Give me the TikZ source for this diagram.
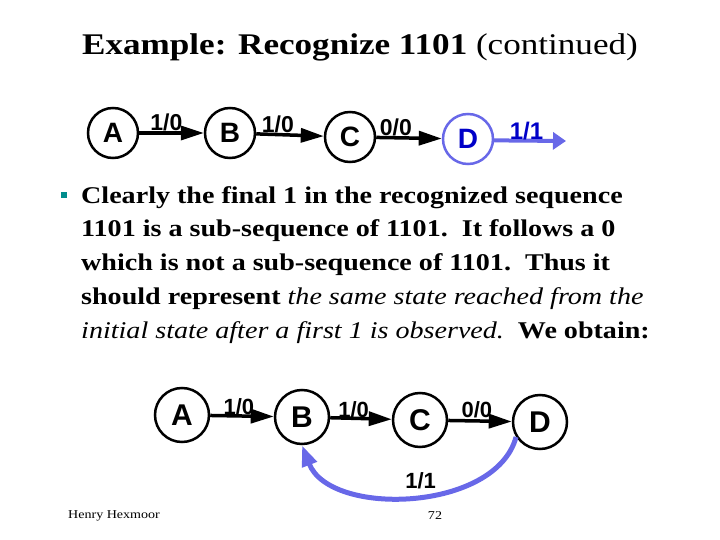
\documentclass[tikz,border=0pt]{standalone}
\usepackage{fontspec}
\setmainfont{Liberation Serif}[FakeStretch=1.17]
\newfontfamily\arialfont{Liberation Sans}
\usepackage{tikz}
\usetikzlibrary{arrows.meta}

\definecolor{lineblue}{RGB}{104,104,232}
\definecolor{textblue}{RGB}{0,0,200}
\definecolor{bulletteal}{RGB}{0,140,140}

\begin{document}
\begin{tikzpicture}[x=1pt,y=-1pt,
  state/.style={circle,draw=black,line width=2.5pt,inner sep=0pt,
                font=\arialfont\bfseries\fontsize{28}{28}\selectfont},
  lbl/.style={font=\arialfont\bfseries\fontsize{23}{23}\selectfont,inner sep=1pt}]
\useasboundingbox (0,0) rectangle (720,540);

\node (title) at (360,47) {\fontsize{30}{36}\selectfont\textbf{Example: Recognize 1101} (continued)};

% top row
\begin{scope}[every node/.style={state,minimum size=50pt}]
  \node (A) at (113,133) {A};
  \node (B) at (230,133) {B};
  \node (C) at (350,137) {C};
  \node[draw=lineblue,text=textblue] (D) at (468,139) {D};
\end{scope}
\coordinate (Dout) at (566,141);

\begin{scope}[>={Triangle[length=23pt,width=14pt]},
              every node/.style={lbl},
              every edge/.style={draw=black, line width=3.5pt}]
  \path[->] (A) edge node[pos=0.42,above=-1pt] {1/0} (B);
  \path[->] (B) edge node[pos=0.32,above=-1pt] {1/0} (C);
  \path[->] (C) edge node[pos=0.3,above=-1pt] {0/0} (D);
  \path[->,>={Triangle[length=13pt,width=17pt]}] (D.-3) edge[draw=lineblue, line width=4pt]
        node[pos=0.45,above=-2pt,text=textblue,font=\arialfont\bfseries\fontsize{24}{24}\selectfont] {1/1} (Dout);
\end{scope}

% bullet text
\node[fill=bulletteal,minimum size=6pt,inner sep=0pt] (bullet) at (63.5,195) {};
\node[anchor=north west,align=left,inner sep=0pt,
      font=\bfseries\fontsize{24}{33.75}\selectfont] (body) at (81,186) {%
Clearly the final 1 in the recognized sequence\\
1101 is a sub-sequence of 1101.\ \ It follows a 0\\
which is not a sub-sequence of 1101.\ \ Thus it\\
should represent {\mdseries\itshape the same state reached from the}\\
{\mdseries\itshape initial state after a first 1 is observed.}\ \ We obtain:};

% bottom row
\begin{scope}[every node/.style={state,minimum size=54pt,
                font=\arialfont\bfseries\fontsize{30}{30}\selectfont}]
  \node (A2) at (182,415) {A};
  \node (B2) at (302,417) {B};
  \node (C2) at (420,420) {C};
  \node (D2) at (540,422) {D};
\end{scope}

\begin{scope}[>={Triangle[length=23pt,width=14pt]},
              every node/.style={lbl,font=\arialfont\bfseries\fontsize{22}{22}\selectfont},
              every edge/.style={draw=black, line width=3.5pt}]
  \path[->] (A2) edge node[pos=0.45,above=-2pt] {1/0} (B2);
  \path[->] (B2) edge node[pos=0.38,above=-2pt] {1/0} (C2);
  \path[->] (C2) edge node[pos=0.45,above=0pt] {0/0} (D2);
\end{scope}
\draw[-{Triangle[length=21pt,width=15pt]}, draw=lineblue, line width=5pt]
  (D2.212) .. controls +(-20,75) and +(28,72) .. (B2.south)
  node[pos=0.47,above=3pt,text=black,font=\arialfont\bfseries\fontsize{22}{22}\selectfont,inner sep=1pt] {1/1};

% footer
\node[font=\fontsize{12}{14}\selectfont] (author) at (114,516) {Henry Hexmoor};
\node[font=\fontsize{12}{14}\selectfont] (page) at (435,516) {72};

\end{tikzpicture}
\end{document}
